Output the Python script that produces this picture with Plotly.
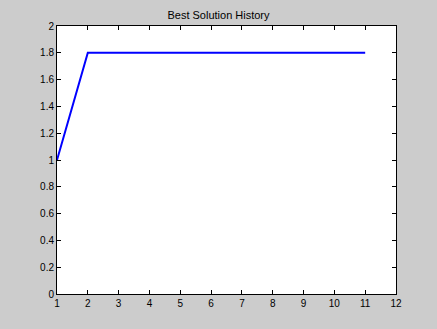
import plotly.graph_objects as go

iterations = [1, 2, 3, 4, 5, 6, 7, 8, 9, 10, 11]
best_values = [1.0, 1.8, 1.8, 1.8, 1.8, 1.8, 1.8, 1.8, 1.8, 1.8, 1.8]
x_ticks = [1, 2, 3, 4, 5, 6, 7, 8, 9, 10, 11, 12]
y_ticks = [0, 0.2, 0.4, 0.6, 0.8, 1, 1.2, 1.4, 1.6, 1.8, 2]

fig = go.Figure()
fig.add_trace(go.Scatter(x=iterations, y=best_values, mode="lines",
                         line=dict(color="#0000ff", width=2)))

axis_common = dict(showgrid=False, zeroline=False, showline=True, linecolor="black",
                   linewidth=1, mirror="ticks", ticks="inside", ticklen=4,
                   tickcolor="black", tickfont=dict(family="Liberation Sans, Arial", size=10, color="black"))

fig.update_layout(
    width=437, height=329,
    margin=dict(l=57, r=41, t=26, b=35),
    paper_bgcolor="#cccccc", plot_bgcolor="white",
    showlegend=False,
    title=dict(text="Best Solution History", x=0.5, xanchor="center", y=1 - 15/329, yanchor="middle",
               font=dict(family="Liberation Sans, Arial", size=11, color="black")),
    xaxis=dict(range=[1, 12], tickvals=x_ticks, ticktext=[str(v) for v in x_ticks], **axis_common),
    yaxis=dict(range=[0, 2], tickvals=y_ticks, ticktext=[f"{v:g}" for v in y_ticks], **axis_common),
)
fig.write_html("out.html",
               config={"displayModeBar": False},
               post_script="document.body.style.margin='0';document.body.style.padding='0';document.body.style.background='#cccccc';document.body.style.overflow='hidden';")
